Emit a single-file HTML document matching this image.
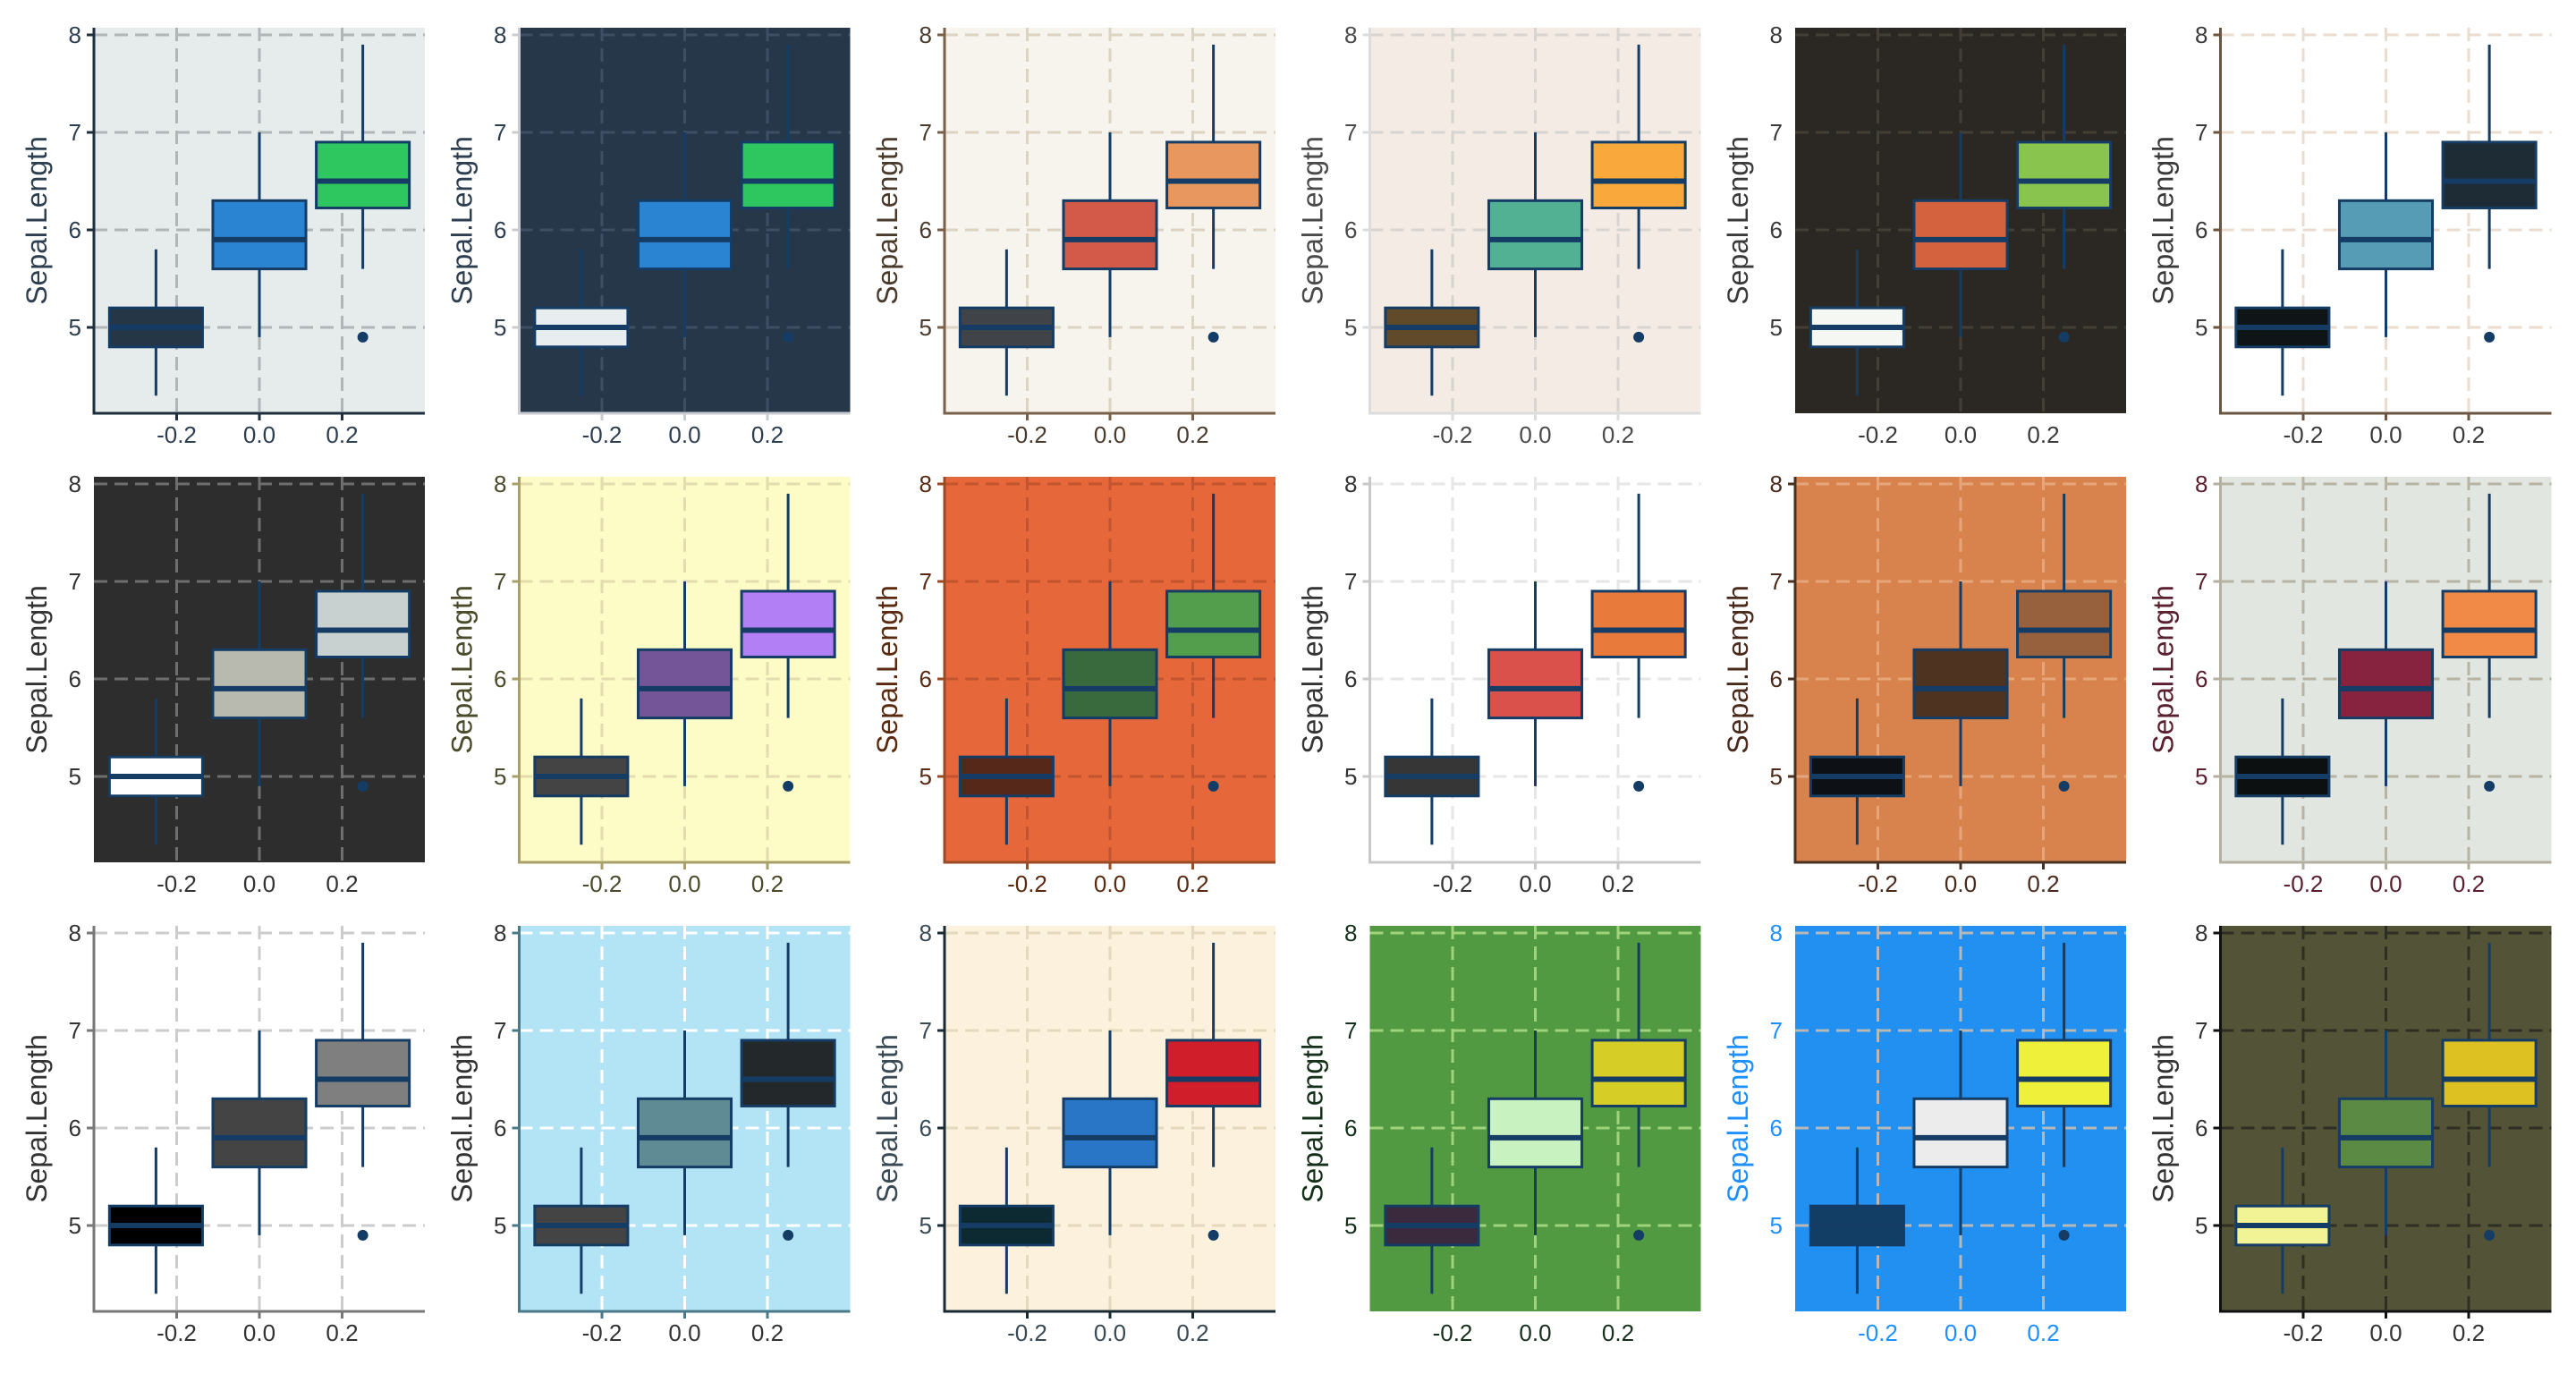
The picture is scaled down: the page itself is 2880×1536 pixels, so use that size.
<!DOCTYPE html>
<html><head><meta charset="utf-8">
<style>
html,body{margin:0;padding:0;background:#fff;}
svg{display:block;font-family:"Liberation Sans",Arial,sans-serif;}
</style></head>
<body>
<svg id="chart" width="2880" height="1536" viewBox="0 0 2880 1536" xmlns="http://www.w3.org/2000/svg"></svg>
<script>
// ---- data (iris Sepal.Length by species) ----
const species = ["setosa","versicolor","virginica"];
const xPositions = [-0.25, 0, 0.25];
const whiskerLow = [4.3, 4.9, 5.6];
const q1Values = [4.8, 5.6, 6.225];
const medianValues = [5.0, 5.9, 6.5];
const q3Values = [5.2, 6.3, 6.9];
const whiskerHigh = [5.8, 7.0, 7.9];
const outlierValues = [[], [], [4.9]];
const yTicks = [5, 6, 7, 8];
const xTicks = [-0.2, 0.0, 0.2];
const xTickLabels = ["-0.2", "0.0", "0.2"];
const yTitle = "Sepal.Length";

const themeBg = ["#e6ebeb","#27374a","#f7f4ee","#f3ebe4","#2b2823","#ffffff",
                 "#2d2d2d","#fefcc6","#e5673a","#ffffff","#d8834e","#e1e6e0",
                 "#ffffff","#b3e4f5","#fbf1dc","#529a42","#2190f0","#535437"];
const themeAxis = ["#1f2d3d","#c8ccd0","#7a6048","#dcdcdc",null,"#6b5540",
                   null,"#a8a068","#9a4a25","#c8c8c8","#4a3020","#b4b0a0",
                   "#777777","#4a7a8a","#1a2a33",null,null,"#111111"];
const themeGrid = ["#b0b5b8","#3e4f64","#ddd3c3","#d8d4d0","#433e36","#eadcce",
                   "#6e6e6e","#e2dcae","#c2552f","#e6e6e6","#e6a67a","#b8b4a4",
                   "#cccccc","#ffffff","#e4d8be","#a0d47c","#b8b8b8","#2e2e22"];
const themeText = ["#2c3e50","#2c3e50","#4a3a2c","#4a4a4a","#3a3a3a","#3a3a3a",
                   "#333333","#4b4a2a","#5a2a10","#333333","#4a2a1a","#5a2030",
                   "#333333","#333333","#3a4a55","#15301a","#1e90ff","#333333"];
const themeFills = [
  ["#253746","#2a84d2","#2ec65e"],["#e8edf0","#2a84d2","#2ec65e"],["#404448","#d35a48","#e8975e"],
  ["#604a2a","#52b093","#f9a93c"],["#f5f7f2","#d4623e","#88c44e"],["#0f1416","#569cb4","#1e2d35"],
  ["#ffffff","#b8bab0","#c8d0d0"],["#444444","#735598","#b27ff5"],["#56281a","#386a3e","#529e4c"],
  ["#363636","#d9514a","#e87a3c"],["#0d1015","#4e3420","#98613e"],["#0d1010","#88233f","#f18a46"],
  ["#000000","#444444","#7f7f7f"],["#444444","#5f8b95","#23292b"],["#0d2a33","#2a76c6","#d01f2a"],
  ["#3b2a3e","#c8f3c0","#d6ce26"],["#123e66","#ececec","#eff03a"],["#f2f394","#5a8a44","#ddc022"]
];

const NS = "http://www.w3.org/2000/svg";
const svg = document.getElementById("chart");
function mk(tag, attrs, parent){
  const e = document.createElementNS(NS, tag);
  for (const k in attrs) e.setAttribute(k, attrs[k]);
  (parent||svg).appendChild(e);
  return e;
}
const STROKE = "#143c64";
for (let p = 0; p < 18; p++) {
  const r = Math.floor(p/6), c = p % 6;
  const left = 105 + 475.5*c, width = 370;
  const top = 31 + 502*r, bottom = 462 + 502*r;
  const yScale = v => 366 + 502*r - (v-5)*109;
  const xScale = v => left + (v+0.4)/0.8*width;
  const g = mk("g", {});
  
  
  const bg = mk("rect", {x:left, y:top, width:width, height:bottom-top, fill:themeBg[p]}, g);
  
  
  yTicks.forEach(t => {
    const l = mk("line", {x1:left, x2:left+width, y1:yScale(t), y2:yScale(t), stroke:themeGrid[p], "stroke-width":3, "stroke-dasharray":"15 8"}, g);
    
    
  });
  xTicks.forEach(t => {
    const l = mk("line", {x1:xScale(t), x2:xScale(t), y1:top, y2:bottom, stroke:themeGrid[p], "stroke-width":3, "stroke-dasharray":"15 8"}, g);
    
    
  });
  if (themeAxis[p]) {
    const ax = mk("path", {d:`M${left} ${top} V${bottom} H${left+width}`, fill:"none", stroke:themeAxis[p], "stroke-width":3}, g);
    
    
    yTicks.forEach(t => mk("line", {x1:left-8, x2:left, y1:yScale(t), y2:yScale(t), stroke:themeAxis[p], "stroke-width":3}, g));
    xTicks.forEach(t => mk("line", {x1:xScale(t), x2:xScale(t), y1:bottom, y2:bottom+8, stroke:themeAxis[p], "stroke-width":3}, g));
  }
  yTicks.forEach(t => {
    const tx = mk("text", {x:left-14, y:yScale(t)+9, "text-anchor":"end", "font-size":26, fill:themeText[p]}, g);
    tx.textContent = String(t);
    
    
  });
  xTicks.forEach((t,i) => {
    const tx = mk("text", {x:xScale(t), y:bottom+33, "text-anchor":"middle", "font-size":26, fill:themeText[p]}, g);
    tx.textContent = xTickLabels[i];
    
    
  });
  const yt = mk("text", {x:0, y:0, transform:`translate(${left-53},${(top+bottom)/2}) rotate(-90)`, "text-anchor":"middle", "font-size":32, fill:themeText[p]}, g);
  yt.textContent = yTitle;
  
  
  species.forEach((s,i) => {
    const cx = xScale(xPositions[i]);
    const hw = 0.1125/0.8*width;
    const bg2 = mk("g", {}, g);
    
    
    mk("line", {x1:cx, x2:cx, y1:yScale(whiskerLow[i]), y2:yScale(q1Values[i]), stroke:STROKE, "stroke-width":3}, bg2);
    mk("line", {x1:cx, x2:cx, y1:yScale(q3Values[i]), y2:yScale(whiskerHigh[i]), stroke:STROKE, "stroke-width":3}, bg2);
    mk("rect", {x:cx-hw, y:yScale(q3Values[i]), width:2*hw, height:yScale(q1Values[i])-yScale(q3Values[i]), fill:themeFills[p][i], stroke:STROKE, "stroke-width":3}, bg2);
    mk("line", {x1:cx-hw, x2:cx+hw, y1:yScale(medianValues[i]), y2:yScale(medianValues[i]), stroke:STROKE, "stroke-width":6}, bg2);
    outlierValues[i].forEach(o => {
      const pt = mk("circle", {cx:cx, cy:yScale(o), r:6, fill:STROKE}, bg2);
      
      
    });
  });
}
</script>
</body></html>
